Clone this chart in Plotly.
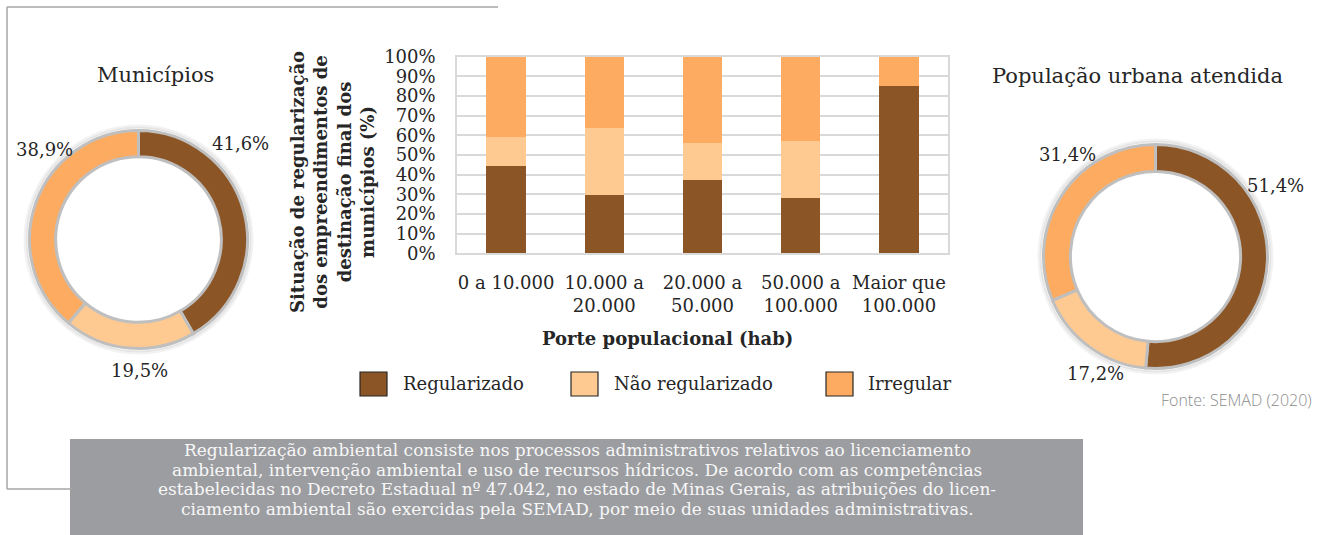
import plotly.graph_objects as go

# ---- data -------------------------------------------------------------
portes = ["0 a 10.000", "10.000 a<br>20.000", "20.000 a<br>50.000",
          "50.000 a<br>100.000", "Maior que<br>100.000"]
series_names = ["Regularizado", "Não regularizado", "Irregular"]
regularizado = [44.4, 29.5, 37.1, 28.1, 85.3]
nao_regularizado = [14.8, 34.2, 19.0, 28.9, 0.0]
irregular = [40.8, 36.3, 43.9, 43.0, 14.7]

municipios = [41.6, 19.5, 38.9]
populacao = [51.4, 17.2, 31.4]

y_ticks = list(range(0, 101, 10))

nota = [
    "Regularização ambiental consiste nos processos administrativos relativos ao licenciamento",
    "ambiental, intervenção ambiental e uso de recursos hídricos. De acordo com as competências",
    "estabelecidas no Decreto Estadual nº 47.042, no estado de Minas Gerais, as atribuições do licen-",
    "ciamento ambiental são exercidas pela SEMAD, por meio de suas unidades administrativas.",
]

# ---- styling ------------------------------------------------------------
W, H = 1327, 535
colors = ["#8B5526", "#FFCA91", "#FDAB60"]
SERIF = "DejaVu Serif"
TXT = "#262626"


def px(x):
    return x / W


def py(y):
    return 1 - y / H


def pct(v):
    return f"{v:.1f}".replace(".", ",") + "%"


def donut_domain(cx, cy, r):
    return dict(x=[px(cx - r), px(cx + r)], y=[py(cy + r), py(cy - r)])


def note(x, y, text, size=18, color=TXT, family=SERIF, weight="normal", **kw):
    d = dict(x=px(x), y=py(y), xref="paper", yref="paper", text=text, showarrow=False,
             font=dict(family=family, size=size, color=color, weight=weight),
             xanchor="center", yanchor="middle")
    d.update(kw)
    return d


fig = go.Figure()

# stacked bars
for name, vals, col in zip(series_names, [regularizado, nao_regularizado, irregular], colors):
    fig.add_trace(go.Bar(x=portes, y=vals, name=name, marker=dict(color=col, line=dict(width=0)),
                         showlegend=False, hoverinfo="x+y+name"))

shapes = []

# donuts, with a faint halo around each ring
donuts = [(municipios, (138.5, 239.5, 109)), (populacao, (1155.5, 256.5, 112))]
for vals, (cx, cy, r) in donuts:
    for k, op in [(3, 0.10), (5, 0.05)]:
        shapes.append(dict(type="circle", xref="paper", yref="paper",
                           x0=px(cx - r - k), x1=px(cx + r + k), y0=py(cy + r + k), y1=py(cy - r - k),
                           line=dict(color=f"rgba(0,0,0,{op})", width=2), layer="below"))
    fig.add_trace(go.Pie(values=vals, labels=series_names, hole=0.76, sort=False,
                         direction="clockwise", rotation=0, textinfo="none",
                         marker=dict(colors=colors, line=dict(color="#BFBFBF", width=3)),
                         domain=donut_domain(cx, cy, r), showlegend=False))

annotations = []

# donut titles
annotations.append(note(155, 75, "Municípios", size=21))
annotations.append(note(1137, 76, "População urbana atendida", size=21))

# donut value labels
for vals, spots in [(municipios, [(240, 143), (139, 370), (44, 149)]),
                    (populacao, [(1275, 186), (1095, 373), (1067, 155)])]:
    for v, (x, y) in zip(vals, spots):
        annotations.append(note(x, y, pct(v)))

# axis titles of the bar chart
annotations.append(note(332, 182,
                        "Situação de regularização<br>dos empreendimentos de<br>destinação final dos<br>municípios (%)",
                        weight="bold", textangle=-90, align="center"))
annotations.append(note(667, 338, "Porte populacional (hab)", weight="bold"))

# legend
legend_spots = [(360, 401), (571, 612), (826, 866)]
for name, col, (sx, tx) in zip(series_names, colors, legend_spots):
    shapes.append(dict(type="rect", xref="paper", yref="paper",
                       x0=px(sx), x1=px(sx + 27), y0=py(396), y1=py(372),
                       fillcolor=col, line=dict(color="#262626", width=1.2)))
    annotations.append(note(tx, 384, name, xanchor="left"))

# source
annotations.append(note(1314, 400, "Fonte: SEMAD (2020)", size=16, color="#8C8C8C",
                        family="Open Sans", weight=300, xanchor="right"))

# frame lines
frame = "#A6A6A6"
shapes += [
    dict(type="line", xref="paper", yref="paper", x0=px(7), x1=px(498), y0=py(7), y1=py(7),
         line=dict(color=frame, width=1.5)),
    dict(type="line", xref="paper", yref="paper", x0=px(7), x1=px(7), y0=py(7), y1=py(489),
         line=dict(color=frame, width=1.5)),
    dict(type="line", xref="paper", yref="paper", x0=px(7), x1=px(72), y0=py(489), y1=py(489),
         line=dict(color=frame, width=1.5)),
]

# note box
shapes.append(dict(type="rect", xref="paper", yref="paper", x0=px(70), x1=px(1083),
                   y0=py(535), y1=py(439), fillcolor="#9C9DA1", line=dict(width=0), layer="below"))
for i, line in enumerate(nota):
    annotations.append(note(577, 450 + i * 19.5, line, size=17, color="#F7F7F7", borderpad=0))

fig.update_layout(
    width=W, height=H,
    margin=dict(l=0, r=0, t=0, b=0, autoexpand=False),
    paper_bgcolor="white", plot_bgcolor="white",
    barmode="stack", bargap=0.6,
    shapes=shapes, annotations=annotations,
    xaxis=dict(domain=[px(457), px(948)], type="category", automargin=False,
               tickfont=dict(family=SERIF, size=18, color=TXT),
               showline=True, mirror=True, linecolor="#D9D9D9", linewidth=1.5,
               ticks="outside", ticklen=12, tickcolor="rgba(0,0,0,0)", showgrid=False),
    yaxis=dict(domain=[py(253.3), py(56.7)], range=[0, 100], tickvals=y_ticks, automargin=False,
               ticktext=[f"{t}%" for t in y_ticks],
               tickfont=dict(family=SERIF, size=18, color=TXT),
               showline=True, mirror=True, linecolor="#D9D9D9", linewidth=1.5,
               gridcolor="#D9D9D9", gridwidth=1.5, zeroline=False,
               ticks="outside", ticklen=16, tickcolor="rgba(0,0,0,0)"),
)

fig.write_html("out.html")
